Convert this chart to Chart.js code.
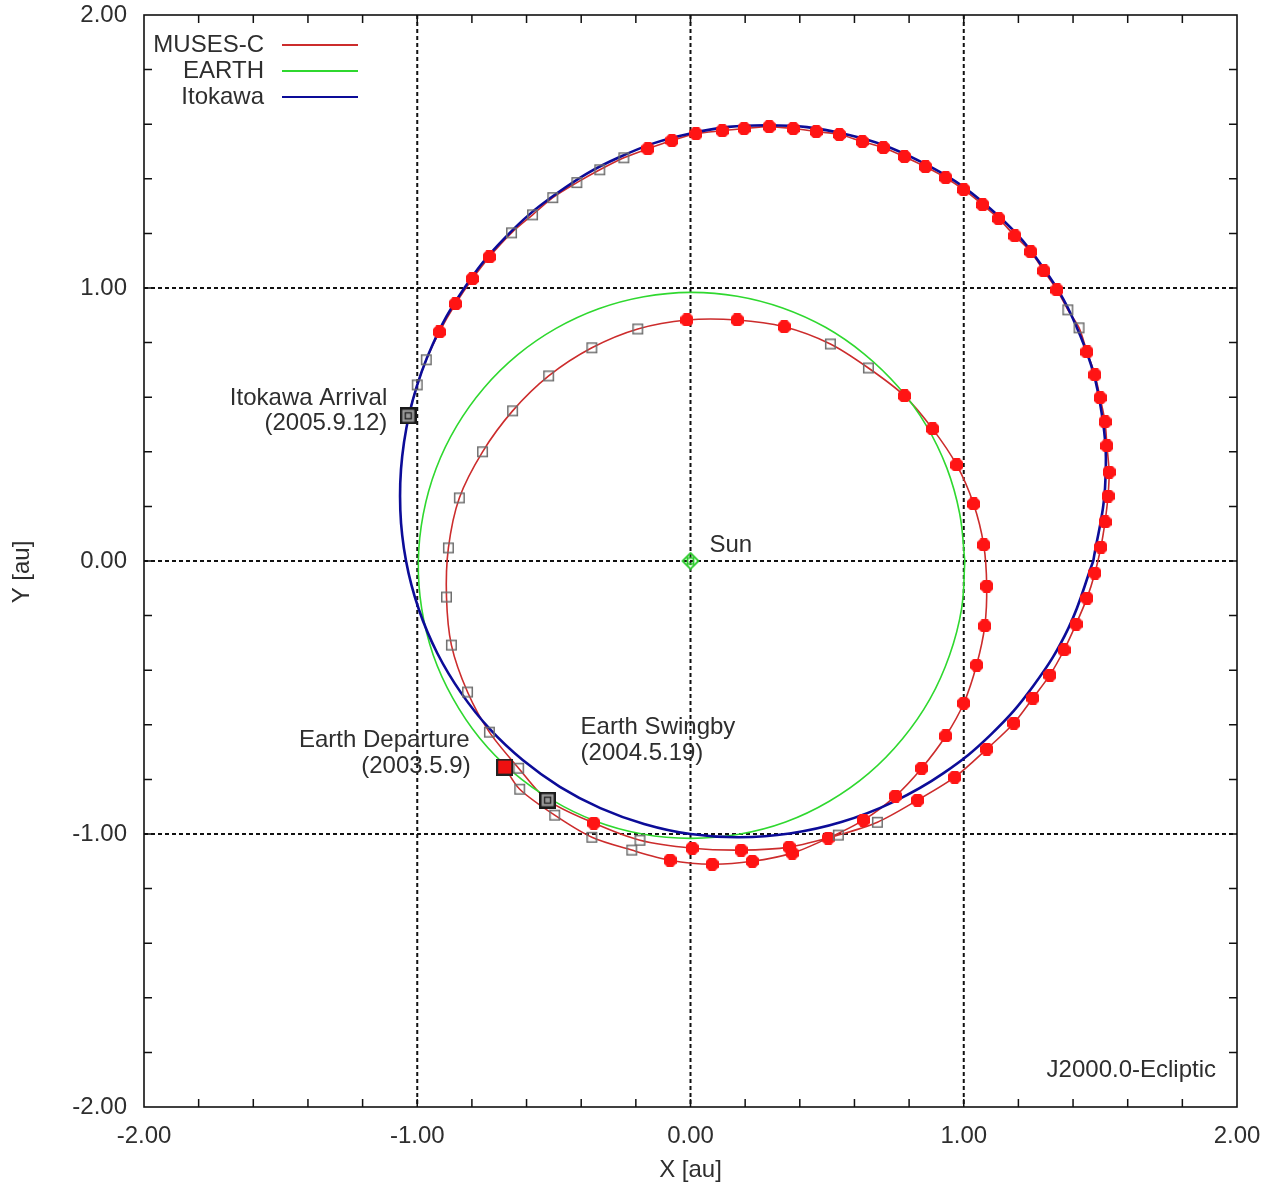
<!DOCTYPE html>
<html>
<head>
<meta charset="utf-8">
<script src="https://cdn.jsdelivr.net/npm/chart.js@4.4.1/dist/chart.umd.min.js"></script>
<style>html,body{margin:0;padding:0;background:#fff;}canvas{display:block;}</style>
</head>
<body>
<canvas id="c" width="1272" height="1189"></canvas>
<script>
// ---------------- data (au, J2000.0 ecliptic) ----------------
const axisTickValues = [-2, -1, 0, 1, 2];
const axisTickLabels = ['-2.00', '-1.00', '0.00', '1.00', '2.00'];
const gridValues = [-1, 0, 1];
const minorTickValues = [-1.8,-1.6,-1.4,-1.2,-1.0,-0.8,-0.6,-0.4,-0.2,0,0.2,0.4,0.6,0.8,1.0,1.2,1.4,1.6,1.8];
const seriesNames = ['MUSES-C', 'EARTH', 'Itokawa'];

// MUSES-C trajectory: inner loop (launch -> swingby), then outer leg (swingby -> arrival)
const musesX = [-0.680,-0.625,-0.497,-0.361,-0.215,-0.075,0.079,0.226,0.372,0.504,0.633,0.750,0.846,0.934,1.000,1.047,1.077,1.084,1.073,1.036,0.974,0.886,0.783,0.651,0.512,0.343,0.171,-0.013,-0.193,-0.361,-0.519,-0.651,-0.761,-0.846,-0.886,-0.893,-0.875,-0.816,-0.736,-0.629,-0.523,
  -0.354,-0.185,0.006,0.185,0.361,0.541,0.684,0.831,0.967,1.084,1.183,1.253,1.315,1.367,1.411,1.451,1.480,1.502,1.517,1.528,1.532,1.524,1.517,1.499,1.480,1.451,1.422,1.381,1.341,1.293,1.245,1.187,1.128,1.069,1.000,0.934,0.860,0.783,0.706,0.629,0.545,0.460,0.376,0.288,0.196,0.116,0.020,-0.068,-0.156,-0.244,-0.332,-0.416,-0.504,-0.578,-0.655,-0.736,-0.798,-0.860,-0.919,-0.967,-1.000,-1.033];
const musesY = [-0.755,-0.836,-0.931,-1.012,-1.059,-1.096,-1.111,-1.100,-1.070,-1.015,-0.949,-0.861,-0.759,-0.641,-0.521,-0.381,-0.238,-0.092,0.059,0.209,0.352,0.484,0.605,0.707,0.795,0.858,0.883,0.883,0.850,0.781,0.678,0.550,0.400,0.231,0.048,-0.132,-0.308,-0.480,-0.627,-0.759,-0.876,
  -0.960,-1.023,-1.052,-1.059,-1.048,-1.004,-0.957,-0.876,-0.792,-0.689,-0.594,-0.502,-0.418,-0.326,-0.231,-0.136,-0.044,0.051,0.143,0.238,0.326,0.422,0.510,0.598,0.682,0.766,0.854,0.920,0.993,1.063,1.133,1.191,1.254,1.305,1.360,1.404,1.444,1.481,1.514,1.536,1.562,1.573,1.584,1.591,1.584,1.576,1.565,1.540,1.510,1.477,1.433,1.386,1.331,1.268,1.202,1.114,1.034,0.942,0.839,0.737,0.645,0.532];
// 1 = thrusting (filled red), 0 = coasting (open grey), 2 = event point
const musesMark = [2,0,0,0,0,1,1,1,1,1,1,1,1,1,1,1,1,1,1,1,1,1,1,0,0,1,1,1,0,0,0,0,0,0,0,0,0,0,0,0,2,
  1,0,1,1,1,0,0,1,1,1,1,1,1,1,1,1,1,1,1,1,1,1,1,1,1,1,0,0,1,1,1,1,1,1,1,1,1,1,1,1,1,1,1,1,1,1,1,1,1,0,0,0,0,0,0,1,1,1,1,0,0,2];

const earthX = [1.004,0.985,0.938,0.862,0.760,0.636,0.494,0.337,0.171,0.000,-0.171,-0.336,-0.492,-0.633,-0.756,-0.856,-0.931,-0.978,-0.996,-0.984,-0.942,-0.870,-0.772,-0.649,-0.506,-0.347,-0.176,0.000,0.177,0.348,0.508,0.652,0.776,0.876,0.948,0.992,1.004];
const earthY = [0.000,0.174,0.341,0.498,0.638,0.758,0.856,0.927,0.970,0.984,0.968,0.924,0.852,0.755,0.634,0.494,0.339,0.172,0.000,-0.173,-0.343,-0.502,-0.648,-0.774,-0.876,-0.953,-1.000,-1.016,-1.001,-0.956,-0.880,-0.778,-0.651,-0.506,-0.345,-0.175,0.000];

const itokawaX = [1.474,1.517,1.504,1.427,1.287,1.089,0.844,0.569,0.281,0.000,-0.261,-0.490,-0.682,-0.833,-0.944,-1.017,-1.055,-1.062,-1.041,-0.995,-0.927,-0.839,-0.734,-0.613,-0.478,-0.330,-0.170,0.000,0.178,0.363,0.552,0.741,0.926,1.100,1.255,1.384,1.474];
const itokawaY = [0.000,0.267,0.547,0.824,1.080,1.298,1.462,1.563,1.596,1.566,1.479,1.346,1.181,0.992,0.792,0.587,0.384,0.187,0.000,-0.175,-0.337,-0.484,-0.616,-0.730,-0.827,-0.905,-0.963,-1.000,-1.012,-0.998,-0.956,-0.883,-0.777,-0.635,-0.457,-0.244,0.000];

const eventNames = ['Earth Departure', 'Earth Swingby', 'Itokawa Arrival'];
const eventDates = ['(2003.5.9)', '(2004.5.19)', '(2005.9.12)'];
const eventX = [-0.680, -0.523, -1.033];
const eventY = [-0.755, -0.876, 0.532];
const sunX = [0.0], sunY = [0.0];
const sunLabel = 'Sun';
const frameLabel = 'J2000.0-Ecliptic';
const xTitle = 'X [au]', yTitle = 'Y [au]';

// ---------------- styles ----------------
const FONT = "'Liberation Sans', Arial, sans-serif";
const TXT = '#2e2e2e';
const RED = '#cc2c2c', GREEN = '#2fd82f', BLUE = '#0c0c98';

function mk(w, h, draw) { const c = document.createElement('canvas'); c.width = w; c.height = h; draw(c.getContext('2d')); return c; }
const filledImg = mk(13, 13, g => {
  g.fillStyle = '#ff1414';
  const p = [[3.5,0],[9.5,0],[13,3.5],[13,9.5],[9.5,13],[3.5,13],[0,9.5],[0,3.5]];
  g.beginPath(); g.moveTo(p[0][0], p[0][1]); p.forEach(q => g.lineTo(q[0], q[1])); g.closePath(); g.fill();
});
const hollowImg = mk(13, 13, g => { g.strokeStyle = '#6e6e6e'; g.lineWidth = 1.5; g.strokeRect(1.75, 1.75, 9.5, 9.5); });
const depImg = mk(17, 17, g => { g.fillStyle = '#222'; g.fillRect(0, 0, 17, 17); g.fillStyle = '#ee1010'; g.fillRect(2, 2, 13, 13); });
const evtImg = mk(17, 17, g => {
  g.fillStyle = '#1a1a1a'; g.fillRect(0, 0, 17, 17);
  g.fillStyle = '#9c9c9c'; g.fillRect(2.5, 2.5, 12, 12);
  g.strokeStyle = '#222'; g.lineWidth = 1.4; g.strokeRect(5.5, 5.5, 6, 6);
});
const sunImg = mk(19, 19, g => {
  g.strokeStyle = '#2ccc2c'; g.lineWidth = 1.8;
  g.beginPath(); g.moveTo(9.5, 1.5); g.lineTo(17.5, 9.5); g.lineTo(9.5, 17.5); g.lineTo(1.5, 9.5); g.closePath(); g.stroke();
  g.strokeRect(6.5, 6.5, 6, 6);
});

const pts = (xs, ys) => xs.map((v, i) => ({ x: v, y: ys[i] }));

const decorPlugin = {
  id: 'decor',
  beforeDatasetsDraw(chart) {
    const { ctx, chartArea: a, scales: { x, y } } = chart;
    ctx.save();
    ctx.setLineDash([4, 3]);
    ctx.strokeStyle = '#111';
    ctx.lineWidth = 2;
    gridValues.forEach(v => {
      const px = x.getPixelForValue(v);
      ctx.beginPath(); ctx.moveTo(px, a.top); ctx.lineTo(px, a.bottom); ctx.stroke();
      const py = y.getPixelForValue(v);
      ctx.beginPath(); ctx.moveTo(a.left, py); ctx.lineTo(a.right, py); ctx.stroke();
    });
    ctx.restore();
  },
  afterDatasetsDraw(chart) {
    const { ctx, chartArea: a, scales: { x, y } } = chart;
    ctx.save();
    ctx.strokeStyle = '#111'; ctx.lineWidth = 1.6;
    ctx.strokeRect(a.left, a.top, a.right - a.left, a.bottom - a.top);
    ctx.lineWidth = 1.5;
    const tl = 8;
    minorTickValues.forEach(v => {
      const px = x.getPixelForValue(v), py = y.getPixelForValue(v);
      ctx.beginPath();
      ctx.moveTo(px, a.bottom); ctx.lineTo(px, a.bottom - tl);
      ctx.moveTo(px, a.top); ctx.lineTo(px, a.top + tl);
      ctx.moveTo(a.left, py); ctx.lineTo(a.left + tl, py);
      ctx.moveTo(a.right, py); ctx.lineTo(a.right - tl, py);
      ctx.stroke();
    });
    // legend
    ctx.font = '24px ' + FONT;
    ctx.fillStyle = TXT;
    ctx.textAlign = 'right'; ctx.textBaseline = 'middle';
    const legColors = [RED, GREEN, BLUE];
    seriesNames.forEach((n, i) => {
      const ly = a.top + 30 + i * 26;
      ctx.fillText(n, a.left + 120, ly);
      ctx.strokeStyle = legColors[i]; ctx.lineWidth = 2;
      ctx.beginPath(); ctx.moveTo(a.left + 138, ly); ctx.lineTo(a.left + 214, ly); ctx.stroke();
    });
    // event annotations
    const ev = eventX.map((v, i) => ({ px: x.getPixelForValue(v), py: y.getPixelForValue(eventY[i]) }));
    ctx.textAlign = 'right';
    ctx.fillText(eventNames[0], ev[0].px - 35, ev[0].py - 27);
    ctx.fillText(eventDates[0], ev[0].px - 34, ev[0].py - 1);
    ctx.textAlign = 'left';
    ctx.fillText(eventNames[1], ev[1].px + 33, ev[1].py - 73);
    ctx.fillText(eventDates[1], ev[1].px + 33, ev[1].py - 47);
    ctx.textAlign = 'right';
    ctx.fillText(eventNames[2], ev[2].px - 21, ev[2].py - 17);
    ctx.fillText(eventDates[2], ev[2].px - 21, ev[2].py + 8);
    ctx.textAlign = 'left';
    ctx.fillText(sunLabel, x.getPixelForValue(sunX[0]) + 19, y.getPixelForValue(sunY[0]) - 16);
    ctx.textAlign = 'right';
    ctx.fillText(frameLabel, a.right - 21, a.bottom - 37);
    ctx.textAlign = 'center';
    ctx.fillText(xTitle, (a.left + a.right) / 2, 1170);
    ctx.translate(22, 572); ctx.rotate(-Math.PI / 2);
    ctx.fillText(yTitle, 0, 0);
    ctx.restore();
  }
};

const tickFont = { family: FONT, size: 24 };

new Chart(document.getElementById('c'), {
  type: 'scatter',
  data: {
    datasets: [
      { label: seriesNames[2], data: pts(itokawaX, itokawaY), showLine: true, borderColor: BLUE, borderWidth: 2.6,
        pointRadius: 0, tension: 0.4, order: 4 },
      { label: seriesNames[1], data: pts(earthX, earthY), showLine: true, borderColor: GREEN, borderWidth: 1.6,
        pointRadius: 0, tension: 0.4, order: 5 },
      { label: seriesNames[0], data: pts(musesX, musesY), showLine: true, borderColor: RED, borderWidth: 1.6,
        pointRadius: 0, tension: 0.3, order: 6 },
      { label: seriesNames[0] + ' markers', data: pts(musesX, musesY), showLine: false,
        pointStyle: c => musesMark[c.dataIndex] === 1 ? filledImg : hollowImg,
        pointRadius: c => musesMark[c.dataIndex] === 2 ? 0 : 6, order: 2 },
      { label: 'events', data: pts(eventX, eventY), showLine: false,
        pointStyle: c => c.dataIndex === 0 ? depImg : evtImg, pointRadius: 8, order: 1 },
      { label: sunLabel, data: pts(sunX, sunY), showLine: false, pointStyle: sunImg, pointRadius: 8, order: 1 }
    ]
  },
  options: {
    responsive: false, animation: false, devicePixelRatio: 1,
    layout: { padding: { left: 0, right: 35, top: 15, bottom: 0 } },
    plugins: { legend: { display: false }, tooltip: { enabled: false } },
    scales: {
      x: {
        type: 'linear', min: -2, max: 2,
        afterBuildTicks: s => { s.ticks = axisTickValues.map(v => ({ value: v })); },
        afterFit: s => { s.height = 82; s.paddingLeft = 0; s.paddingRight = 0; },
        ticks: { callback: (v, i) => axisTickLabels[i], font: tickFont, color: TXT, padding: 15, maxRotation: 0, autoSkip: false },
        grid: { display: false, drawTicks: false }, border: { display: false }
      },
      y: {
        type: 'linear', min: -2, max: 2,
        afterBuildTicks: s => { s.ticks = axisTickValues.map(v => ({ value: v })); },
        afterFit: s => { s.width = 144; s.paddingTop = 0; s.paddingBottom = 0; },
        ticks: { callback: (v, i) => axisTickLabels[i], font: tickFont, color: TXT, padding: 17, autoSkip: false },
        grid: { display: false, drawTicks: false }, border: { display: false }
      }
    }
  },
  plugins: [decorPlugin]
});
</script>
</body>
</html>
